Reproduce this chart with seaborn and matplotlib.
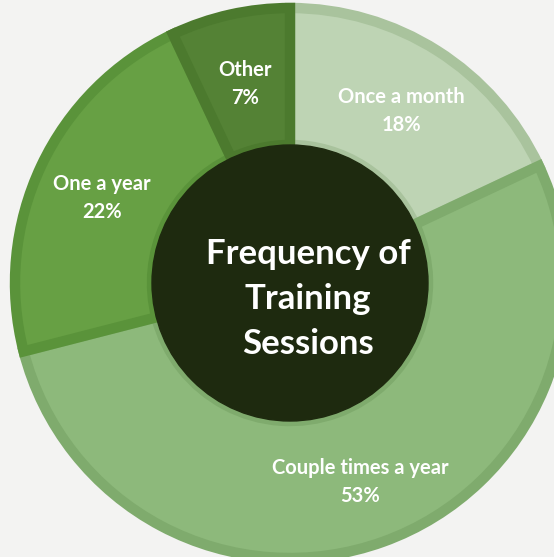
import matplotlib.pyplot as plt
import seaborn as sns

# ── Data ──────────────────────────────────────────────────────────────────────
categories = ["Once a month", "Couple times a year", "One a year", "Other"]
shares = [18, 53, 22, 7]
title_lines = ["Frequency of", "Training", "Sessions"]

fill_hex = ["#BED4B4", "#8DB97B", "#67A044", "#548235"]
edge_hex = ["#A9C39D", "#7FAB6D", "#5A933A", "#4C7A2E"]

BG = "#F3F3F2"
CORE = "#1E2A0F"

# canvas in pixel units so the geometry matches the 554x557 target
W, H = 554, 557
CX, CY = 290, H - 283
R_OUT, R_CORE = 275, 138

sns.set_style("white", {"axes.facecolor": BG, "figure.facecolor": BG})
plt.rcParams["font.family"] = ["Lato", "DejaVu Sans"]

fills = sns.color_palette(fill_hex)
edges = sns.color_palette(edge_hex)

fig = plt.figure(figsize=(W / 100, H / 100), dpi=100)
ax = fig.add_axes([0, 0, 1, 1])

labels = [f"{c}\n{s}%" for c, s in zip(categories, shares)]
wedges, texts = ax.pie(
    shares,
    labels=labels,
    colors=fills,
    startangle=90,
    counterclock=False,
    center=(CX, CY),
    radius=R_OUT,
    labeldistance=0.755,
    wedgeprops=dict(width=R_OUT - R_CORE, linewidth=7.5),
    textprops=dict(color="white", fontsize=14.5, fontweight="bold",
                   linespacing=1.5),
)

# border drawn only on the inside of each wedge
for w, ec in zip(wedges, edges):
    w.set_edgecolor(ec)
    w.set_clip_path(w)

# centre the two-line labels on their anchor (nudge down a little)
for t in texts:
    t.set_horizontalalignment("center")
    t.set_verticalalignment("center")
    t.set_y(t.get_position()[1] - 3.5)

ax.add_patch(plt.Circle((CX, CY), R_CORE, color=CORE, zorder=5))
ax.text(CX + 18, CY - 16, "\n".join(title_lines), color="white",
        fontsize=25, fontweight="bold", ha="center", va="center",
        linespacing=1.5, zorder=6)

ax.set_xlim(0, W)
ax.set_ylim(0, H)
ax.set_aspect("equal")
ax.axis("off")

fig.savefig("out.png", dpi=100, facecolor=BG)
